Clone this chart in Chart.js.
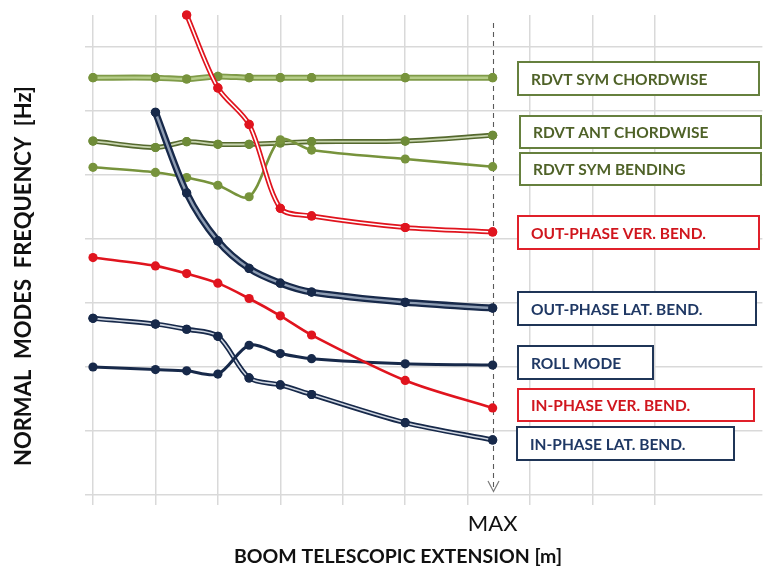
<!DOCTYPE html>
<html>
<head>
<meta charset="utf-8">
<title>Normal modes frequency vs boom telescopic extension</title>
<script src="https://cdn.jsdelivr.net/npm/chart.js@4.4.1/dist/chart.umd.min.js"></script>
<style>
  html, body { margin: 0; padding: 0; background: #ffffff; }
  #wrap { width: 767px; height: 569px; position: relative; }
</style>
</head>
<body>
<div id="wrap"><canvas id="chart" width="767" height="569"></canvas></div>
<script>
// Boom extension stations (x) and the frequency of each normal mode at those stations
const extension = [0, 1, 1.5, 2, 2.5, 3, 3.5, 5, 6.4];
const rdvtSymChordwise = [6.52, 6.52, 6.50, 6.54, 6.52, 6.52, 6.52, 6.52, 6.52];
const rdvtAntChordwise = [5.53, 5.43, 5.52, 5.48, 5.48, 5.50, 5.52, 5.53, 5.62];
const rdvtSymBending   = [5.12, 5.04, 4.96, 4.84, 4.66, 5.55, 5.39, 5.25, 5.13];
const outPhaseVerBend  = [null, null, 7.50, 6.36, 5.79, 4.48, 4.36, 4.18, 4.11];
const outPhaseLatBend  = [null, 5.98, 4.72, 3.97, 3.54, 3.31, 3.17, 3.01, 2.92];
const rollMode         = [2.00, 1.96, 1.94, 1.89, 2.34, 2.21, 2.13, 2.05, 2.03];
const inPhaseVerBend   = [3.71, 3.58, 3.46, 3.31, 3.07, 2.80, 2.50, 1.79, 1.36];
const inPhaseLatBend   = [2.76, 2.67, 2.59, 2.48, 1.83, 1.72, 1.57, 1.13, 0.86];

const modeNames = ['RDVT SYM CHORDWISE', 'RDVT ANT CHORDWISE', 'RDVT SYM BENDING',
  'OUT-PHASE VER. BEND.', 'OUT-PHASE LAT. BEND.', 'ROLL MODE',
  'IN-PHASE VER. BEND.', 'IN-PHASE LAT. BEND.'];
const maxExtension = 6.4;
const maxLabel = 'MAX';
const xTitle = 'BOOM TELESCOPIC EXTENSION [m]';
const yTitle = 'NORMAL  MODES  FREQUENCY  [Hz]';

const GREEN = '#77933C', OLIVE = '#4F6228', RED = '#E0141E', NAVY = '#17294A';

function toPoints(values) {
  return extension.map((x, i) => values[i] == null ? null : { x: x, y: values[i] })
                  .filter(p => p !== null);
}

// One drawn line per series; "double" lines get a thinner inner stroke on top
const series = [
  { values: rdvtSymChordwise, outer: '#7F9B48', width: 6, inner: '#B5CC88', innerWidth: 2.4, point: GREEN, order: 30 },
  { values: rdvtAntChordwise, outer: '#55692E', width: 5, inner: '#C9D6B0', innerWidth: 1.8, point: '#6E8B38', order: 28 },
  { values: rdvtSymBending,   outer: GREEN,     width: 2.6, point: GREEN, order: 26 },
  { values: outPhaseVerBend,  outer: RED,       width: 5, inner: '#FFFFFF', innerWidth: 1.6, point: RED, order: 10 },
  { values: outPhaseLatBend,  outer: NAVY,      width: 7, inner: '#8E9DB3', innerWidth: 2.4, point: NAVY, order: 12 },
  { values: rollMode,         outer: NAVY,      width: 3, point: NAVY, order: 16 },
  { values: inPhaseVerBend,   outer: RED,       width: 2.6, point: RED, order: 14 },
  { values: inPhaseLatBend,   outer: NAVY,      width: 5, inner: '#D0D7E2', innerWidth: 1.6, point: NAVY, order: 18 }
];

const datasets = [];
series.forEach((s, k) => {
  const base = {
    label: modeNames[k],
    data: toPoints(s.values),
    tension: 0.3,
    fill: false,
    clip: false,
    pointRadius: 4.6,
    pointBorderWidth: 0,
    pointBackgroundColor: s.point,
    pointHoverRadius: 4.6
  };
  datasets.push(Object.assign({}, base, { borderColor: s.outer, borderWidth: s.width, order: s.order + 1 }));
  if (s.inner) {
    datasets.push(Object.assign({}, base, { borderColor: s.inner, borderWidth: s.innerWidth, order: s.order }));
  }
});

// Text boxes naming each mode: [left, top, right, bottom], border/text colours
const modeBoxes = [
  { box: [518, 62, 759, 95],   stroke: '#66803E', text: OLIVE },
  { box: [520, 116, 761, 148], stroke: '#66803E', text: OLIVE },
  { box: [520, 153, 761, 185], stroke: '#66803E', text: OLIVE },
  { box: [518, 216, 759, 249], stroke: '#E0202A', text: '#D0161E' },
  { box: [518, 292, 756, 325], stroke: '#1F3557', text: '#1F3864' },
  { box: [518, 346, 653, 379], stroke: '#1F3557', text: '#1F3864' },
  { box: [518, 389, 754, 421], stroke: '#E0202A', text: '#D0161E' },
  { box: [517, 427, 734, 460], stroke: '#1F3557', text: '#1F3864' }
];

const overlay = {
  id: 'overlay',
  beforeDatasetsDraw(chart) {
    const ctx = chart.ctx;
    const xs = chart.scales.x;
    const px = Math.round(xs.getPixelForValue(maxExtension)) + 0.5;
    ctx.save();
    ctx.strokeStyle = '#5A5A5A';
    ctx.lineWidth = 1.1;
    ctx.setLineDash([5, 4]);
    ctx.beginPath();
    ctx.moveTo(px, 23);
    ctx.lineTo(px, 491);
    ctx.stroke();
    ctx.setLineDash([]);
    ctx.strokeStyle = '#7A7A7A';
    ctx.lineWidth = 1.2;
    ctx.beginPath();
    ctx.moveTo(px - 5.5, 481);
    ctx.lineTo(px, 491.5);
    ctx.lineTo(px + 5.5, 481);
    ctx.stroke();
    ctx.restore();
  },
  afterDraw(chart) {
    const ctx = chart.ctx;
    const xs = chart.scales.x;
    ctx.save();
    // mode name boxes
    modeBoxes.forEach((m, i) => {
      const [l, t, r, b] = m.box;
      ctx.fillStyle = '#FFFFFF';
      ctx.fillRect(l, t, r - l, b - t);
      ctx.strokeStyle = m.stroke;
      ctx.lineWidth = 2;
      ctx.strokeRect(l, t, r - l, b - t);
      ctx.fillStyle = m.text;
      ctx.font = 'bold 15.5px Lato';
      ctx.textAlign = 'left';
      ctx.textBaseline = 'middle';
      ctx.fillText(modeNames[i], l + 13, (t + b) / 2 + 1);
    });
    // MAX label under the dashed marker
    ctx.fillStyle = '#111111';
    ctx.font = '22px Lato';
    ctx.textAlign = 'center';
    ctx.textBaseline = 'alphabetic';
    ctx.fillText(maxLabel, xs.getPixelForValue(maxExtension), 531);
    // axis titles
    ctx.font = 'bold 19.5px Lato';
    ctx.fillText(xTitle, 398, 563);
    ctx.translate(31, 276);
    ctx.rotate(-Math.PI / 2);
    ctx.font = 'bold 22px Lato';
    ctx.fillText(yTitle, 0, 0);
    ctx.restore();
  }
};

const gridColor = ctx => Number.isInteger(ctx.tick.value) ? '#D9D9D9' : 'rgba(0,0,0,0)';

new Chart(document.getElementById('chart'), {
  type: 'line',
  data: { datasets: datasets },
  options: {
    responsive: false,
    animation: false,
    devicePixelRatio: 1,
    layout: { padding: { left: 85, top: 15, right: 0, bottom: 64 } },
    plugins: { legend: { display: false }, tooltip: { enabled: false } },
    scales: {
      x: {
        type: 'linear', min: 0, max: 10.72,
        ticks: { display: false, stepSize: 1 },
        grid: { color: gridColor, lineWidth: 1.5, tickLength: 10 },
        border: { display: false }
      },
      y: {
        type: 'linear', min: 0, max: 7.5,
        ticks: { display: false, stepSize: 1 },
        grid: { color: gridColor, lineWidth: 1.5, tickLength: 8 },
        border: { display: false }
      }
    }
  },
  plugins: [overlay]
});
</script>
</body>
</html>
